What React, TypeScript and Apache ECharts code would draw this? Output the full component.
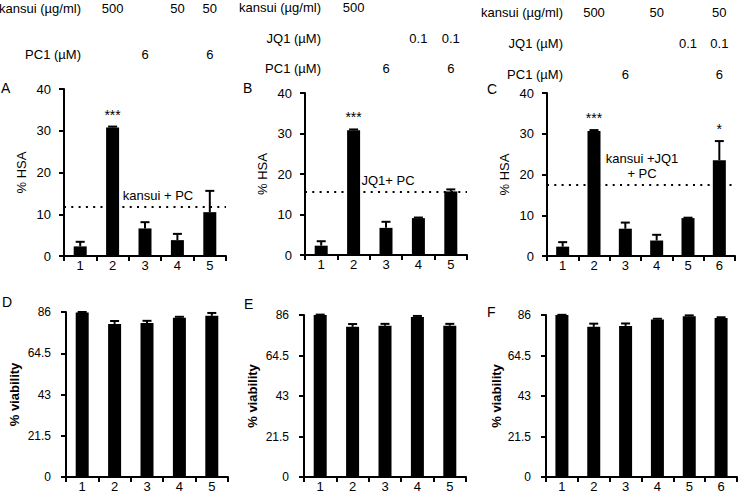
import React, { useEffect, useRef } from "react";
import * as echarts from "echarts";

// ---------- data ----------
const cats5 = ["1", "2", "3", "4", "5"];
const cats6 = ["1", "2", "3", "4", "5", "6"];

const hsaA = [2.3, 30.8, 6.6, 3.8, 10.5];
const hsaErrA = [1.1, 0.2, 1.5, 1.5, 5.1];
const sigA = ["", "***", "", "", ""];
const thresholdA = 11.8;

const hsaB = [2.3, 30.8, 6.7, 9.1, 15.7];
const hsaErrB = [1.1, 0.2, 1.5, 0.15, 0.5];
const sigB = ["", "***", "", "", ""];
const thresholdB = 15.5;

const hsaC = [2.3, 30.7, 6.7, 3.8, 9.3, 23.5];
const hsaErrC = [1.1, 0.2, 1.5, 1.4, 0.1, 4.7];
const sigC = ["", "***", "", "", "", "*"];
const thresholdC = 17.4;

const vibD = [85.8, 79.8, 80.3, 83.0, 84.0];
const vibErrD = [0.2, 1.5, 1.1, 0.5, 1.5];
const vibE = [86.0, 79.7, 80.3, 85.0, 80.3];
const vibErrE = [0.2, 1.5, 1.0, 0.5, 1.0];
const vibF = [86.0, 79.7, 80.2, 83.6, 85.3, 84.4];
const vibErrF = [0.1, 1.7, 1.3, 0.4, 0.5, 0.4];
const noSig5 = ["", "", "", "", ""];
const noSig6 = ["", "", "", "", "", ""];

const kansuiA = ["", "500", "", "50", "50"];
const pc1A = ["", "", "6", "", "6"];
const kansuiB = ["", "500", "", "", ""];
const jq1B = ["", "", "", "0.1", "0.1"];
const pc1B = ["", "", "6", "", "6"];
const kansuiC = ["", "500", "", "50", "", "50"];
const jq1C = ["", "", "", "", "0.1", "0.1"];
const pc1C = ["", "", "6", "", "", "6"];

const hsaTicks = { min: 0, max: 40, interval: 10 };
const vibTicks = { min: 0, max: 86, interval: 21.5 };

const FONT = "Liberation Sans, Arial, sans-serif";

// ---------- layout ----------
const grids = [
  { left: 64, top: 89, width: 162, height: 167 },
  { left: 305, top: 93, width: 162, height: 162 },
  { left: 547, top: 93, width: 188, height: 163 },
  { left: 66, top: 312, width: 162, height: 167 },
  { left: 304, top: 315, width: 162, height: 165 },
  { left: 546, top: 315, width: 191, height: 164 },
];

const panels = [
  { cats: cats5, vals: hsaA, errs: hsaErrA, sig: sigA, ticks: hsaTicks, name: "% HSA", bold: false, gap: 36, thr: thresholdA },
  { cats: cats5, vals: hsaB, errs: hsaErrB, sig: sigB, ticks: hsaTicks, name: "% HSA", bold: false, gap: 36, thr: thresholdB },
  { cats: cats6, vals: hsaC, errs: hsaErrC, sig: sigC, ticks: hsaTicks, name: "% HSA", bold: false, gap: 36, thr: thresholdC },
  { cats: cats5, vals: vibD, errs: vibErrD, sig: noSig5, ticks: vibTicks, name: "% viability", bold: true, gap: 45, thr: null },
  { cats: cats5, vals: vibE, errs: vibErrE, sig: noSig5, ticks: vibTicks, name: "% viability", bold: true, gap: 45, thr: null },
  { cats: cats6, vals: vibF, errs: vibErrF, sig: noSig6, ticks: vibTicks, name: "% viability", bold: true, gap: 43, thr: null },
];

const thrLabels = [
  { panel: 0, text: "kansui + PC", x: 158 },
  { panel: 1, text: "JQ1+ PC", x: 388 },
  { panel: 2, text: "kansui +JQ1\n+ PC", x: 642 },
];

const headerRows = [
  { panel: 0, label: "kansui (µg/ml)", right: 81, y: 8, vals: kansuiA },
  { panel: 0, label: "PC1 (µM)", right: 81, y: 54, vals: pc1A },
  { panel: 1, label: "kansui (µg/ml)", right: 321, y: 7, vals: kansuiB },
  { panel: 1, label: "JQ1 (µM)", right: 321, y: 38, vals: jq1B },
  { panel: 1, label: "PC1 (µM)", right: 321, y: 68, vals: pc1B },
  { panel: 2, label: "kansui (µg/ml)", right: 563, y: 12, vals: kansuiC },
  { panel: 2, label: "JQ1 (µM)", right: 563, y: 43, vals: jq1C },
  { panel: 2, label: "PC1 (µM)", right: 563, y: 74, vals: pc1C },
];

const letters = [
  { t: "A", x: 1, y: 89 },
  { t: "B", x: 243, y: 89 },
  { t: "C", x: 487, y: 90 },
  { t: "D", x: 2, y: 303 },
  { t: "E", x: 244, y: 305 },
  { t: "F", x: 487, y: 313 },
];

function makeErrRender(sig: string[]) {
  return (params: any, api: any) => {
    const x = api.value(0);
    const v = api.value(1);
    const e = api.value(2);
    const base = api.coord([x, v]);
    const top = api.coord([x, v + e]);
    const children: any[] = [
      { type: "line", shape: { x1: base[0], y1: base[1], x2: top[0], y2: top[1] }, style: { stroke: "#000", lineWidth: 2 } },
      { type: "line", shape: { x1: top[0] - 4.5, y1: top[1], x2: top[0] + 4.5, y2: top[1] }, style: { stroke: "#000", lineWidth: 2 } },
    ];
    const s = sig[params.dataIndex];
    if (s) {
      children.push({
        type: "text",
        style: { text: s, x: top[0], y: top[1] - 5, align: "center", verticalAlign: "bottom", fontSize: 14, fontFamily: FONT, fill: "#000" },
      });
    }
    return { type: "group", children };
  };
}

export default function App() {
  const ref = useRef<HTMLDivElement>(null);
  useEffect(() => {
    if (!ref.current) return;
    const chart = echarts.init(ref.current, undefined, { renderer: "svg" });
    const axisLine = { show: true, lineStyle: { color: "#000", width: 2 } };
    const axisTick = { show: true, length: 5, lineStyle: { color: "#000", width: 2 } };

    const option: any = {
      animation: false,
      backgroundColor: "#fff",
      grid: grids.map((g) => ({ ...g, containLabel: false })),
      xAxis: panels.map((p, i) => ({
        type: "category",
        gridIndex: i,
        data: p.cats,
        axisLine,
        axisTick: { ...axisTick, alignWithLabel: false },
        axisLabel: { color: "#000", fontSize: 13, fontFamily: FONT, margin: 3 },
        splitLine: { show: false },
      })),
      yAxis: panels.map((p, i) => ({
        type: "value",
        gridIndex: i,
        min: p.ticks.min,
        max: p.ticks.max,
        interval: p.ticks.interval,
        name: p.name,
        nameLocation: "middle",
        nameGap: p.gap,
        nameTextStyle: { color: "#000", fontSize: 13, fontFamily: FONT, fontWeight: p.bold ? "bold" : "normal" },
        axisLine,
        axisTick,
        axisLabel: { color: "#000", fontSize: i < 3 ? 13 : 12, fontFamily: FONT, margin: i < 3 ? 13 : 15 },
        splitLine: { show: false },
      })),
      series: [] as any[],
    };

    panels.forEach((p, i) => {
      option.series.push({
        type: "bar",
        xAxisIndex: i,
        yAxisIndex: i,
        data: p.vals,
        barWidth: 13,
        itemStyle: { color: "#000" },
        markLine: p.thr == null ? undefined : {
          silent: true,
          symbol: "none",
          label: { show: false },
          lineStyle: { color: "#000", width: 2, type: [2, 5.3] },
          data: [{ yAxis: p.thr }],
        },
      });
      option.series.push({
        type: "custom",
        xAxisIndex: i,
        yAxisIndex: i,
        data: p.vals.map((v, k) => [k, v, p.errs[k]]),
        encode: { x: 0, y: 1 },
        renderItem: makeErrRender(p.sig),
        clip: false,
        z: 3,
      });
    });

    chart.setOption(option);

    const graphics: any[] = [];
    letters.forEach((l) => {
      graphics.push({
        type: "text",
        left: l.x,
        top: l.y - 8,
        style: { text: l.t, fontSize: 14, fontFamily: FONT, fill: "#000" },
      });
    });
    headerRows.forEach((r) => {
      graphics.push({
        type: "text",
        x: r.right,
        y: r.y,
        style: { text: r.label, fontSize: 13, fontFamily: FONT, fill: "#000", align: "right", verticalAlign: "middle" },
      });
      r.vals.forEach((v, k) => {
        if (!v) return;
        const px = chart.convertToPixel({ xAxisIndex: r.panel }, panels[r.panel].cats[k]) as number;
        graphics.push({
          type: "text",
          x: px,
          y: r.y,
          style: { text: v, fontSize: 13, fontFamily: FONT, fill: "#000", align: "center", verticalAlign: "middle" },
        });
      });
    });
    thrLabels.forEach((t) => {
      const py = chart.convertToPixel({ yAxisIndex: t.panel }, panels[t.panel].thr as number) as number;
      graphics.push({
        type: "text",
        x: t.x,
        y: py - 4,
        style: { text: t.text, fontSize: 13, fontFamily: FONT, fill: "#000", align: "center", verticalAlign: "bottom", lineHeight: 15 },
      });
    });
    chart.setOption({ graphic: graphics });

    return () => chart.dispose();
  }, []);

  return (
    <div
      ref={ref}
      style={{ position: "fixed", left: 0, top: 0, width: 740, height: 493, background: "#fff" }}
    />
  );
}
